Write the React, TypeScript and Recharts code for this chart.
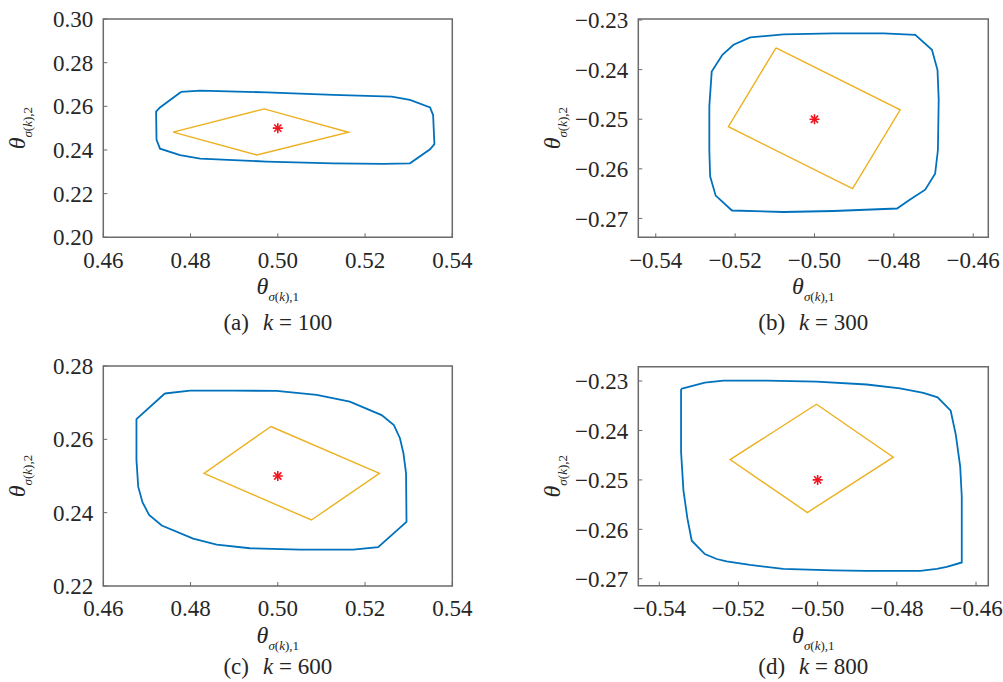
import { ScatterChart, Scatter, XAxis, YAxis, ReferenceArea } from 'recharts'

const BLUE = '#0072BD'
const ORANGE = '#EDB120'
const RED = '#F0141E'
const FRAME = '#6a6a6a'
const INK = '#262626'
const FONT = "'Liberation Serif', 'Times New Roman', serif"

// tick values
const xTicksPos = [0.46, 0.48, 0.5, 0.52, 0.54]
const xTicksNeg = [-0.54, -0.52, -0.5, -0.48, -0.46]
const yTicksA = [0.2, 0.22, 0.24, 0.26, 0.28, 0.3]
const yTicksB = [-0.27, -0.26, -0.25, -0.24, -0.23]
const yTicksC = [0.22, 0.24, 0.26, 0.28]
const yTicksD = [-0.27, -0.26, -0.25, -0.24, -0.23]

// (a) k = 100
const boundAX = [0.4778, 0.4822, 0.4974, 0.5127, 0.5261, 0.5303, 0.5349, 0.5356, 0.5359, 0.5349, 0.5303, 0.5242, 0.5127, 0.4974, 0.4822, 0.4776, 0.473, 0.4722, 0.4721, 0.473]
const boundAY = [0.2666, 0.2672, 0.2664, 0.2652, 0.2644, 0.2629, 0.2595, 0.256, 0.2427, 0.2403, 0.2339, 0.2336, 0.2339, 0.2347, 0.236, 0.2376, 0.2406, 0.2446, 0.2576, 0.2595]
const estAX = [0.476, 0.4969, 0.5162, 0.4952]
const estAY = [0.2482, 0.2588, 0.2481, 0.2377]

// (b) k = 300
const boundBX = [-0.5162, -0.5078, -0.4952, -0.4826, -0.4746, -0.4704, -0.469, -0.4687, -0.4689, -0.4696, -0.4721, -0.4759, -0.4792, -0.4952, -0.5078, -0.5208, -0.5249, -0.5263, -0.5265, -0.5265, -0.5259, -0.5232, -0.5204]
const boundBY = [-0.2335, -0.2329, -0.2327, -0.2327, -0.233, -0.236, -0.2401, -0.2461, -0.2562, -0.261, -0.2642, -0.2662, -0.268, -0.2685, -0.2687, -0.2684, -0.2654, -0.2615, -0.2562, -0.2474, -0.2404, -0.237, -0.235]
const estBX = [-0.5097, -0.4784, -0.4904, -0.5217]
const estBY = [-0.2356, -0.2481, -0.264, -0.2515]

// (c) k = 600
const boundCX = [0.4741, 0.4799, 0.4898, 0.4997, 0.5089, 0.5165, 0.5238, 0.5266, 0.528, 0.5288, 0.5294, 0.5295, 0.523, 0.5173, 0.5051, 0.4936, 0.486, 0.4806, 0.4734, 0.4705, 0.469, 0.468, 0.4676, 0.4676]
const boundCY = [0.2725, 0.2733, 0.2733, 0.2732, 0.2721, 0.2703, 0.2666, 0.2639, 0.2603, 0.2562, 0.2507, 0.2375, 0.2306, 0.2299, 0.2299, 0.2303, 0.2313, 0.2329, 0.2365, 0.2394, 0.2428, 0.2471, 0.2544, 0.2655]
const estCX = [0.4984, 0.5233, 0.5077, 0.4831]
const estCY = [0.2635, 0.2507, 0.238, 0.2507]

// (d) k = 800
const boundDX = [-0.5345, -0.5285, -0.5238, -0.5129, -0.5003, -0.4876, -0.4792, -0.4733, -0.4697, -0.4664, -0.4651, -0.464, -0.4636, -0.4636, -0.4674, -0.4699, -0.4741, -0.4876, -0.496, -0.5087, -0.5171, -0.523, -0.5255, -0.5285, -0.5318, -0.5329, -0.5339, -0.5345]
const boundDY = [-0.2316, -0.2303, -0.2299, -0.2299, -0.2301, -0.2307, -0.2315, -0.2324, -0.2333, -0.236, -0.2409, -0.2473, -0.2534, -0.2667, -0.2676, -0.268, -0.2684, -0.2684, -0.2683, -0.268, -0.2672, -0.2665, -0.266, -0.265, -0.2623, -0.2578, -0.2521, -0.2443]
const estDX = [-0.5003, -0.4809, -0.5026, -0.5221]
const estDY = [-0.2347, -0.2454, -0.2566, -0.2459]

// true parameter
const truePos = [{ x: 0.5, y: 0.25 }]
const trueNeg = [{ x: -0.5, y: -0.25 }]

// closed polygon from x/y lists
const ring = (xs: number[], ys: number[]) => {
  const pts = xs.map((x, i) => ({ x, y: ys[i] }))
  return [...pts, pts[0]]
}

const fmt = (v: number) => (v < 0 ? '\u2212' + Math.abs(v).toFixed(2) : v.toFixed(2))

const Nothing = () => <g />

const Asterisk = (p: any) => {
  const { cx, cy } = p
  const r = 5
  const d = r * 0.72
  return (
    <g stroke={RED} strokeWidth={1.6}>
      <line x1={cx - r} y1={cy} x2={cx + r} y2={cy} />
      <line x1={cx} y1={cy - r} x2={cx} y2={cy + r} />
      <line x1={cx - d} y1={cy - d} x2={cx + d} y2={cy + d} />
      <line x1={cx - d} y1={cy + d} x2={cx + d} y2={cy - d} />
    </g>
  )
}

type Rect = { left: number; right: number; top: number; bottom: number }

const Theta = ({ idx }: { idx: string }) => (
  <>
    <tspan fontStyle="italic" style={{ fontSize: 24 }}>θ</tspan>
    <tspan dy={7} fontStyle="italic" style={{ fontSize: 13 }}>σ</tspan>
    <tspan style={{ fontSize: 13 }}>(</tspan>
    <tspan fontStyle="italic" style={{ fontSize: 13 }}>k</tspan>
    <tspan style={{ fontSize: 13 }}>),{idx}</tspan>
  </>
)

function Panel(props: {
  left: number
  top: number
  width: number
  plot: Rect
  xDomain: number[]
  yDomain: number[]
  xTicks: number[]
  yTicks: number[]
  bound: { x: number; y: number }[]
  est: { x: number; y: number }[]
  truth: { x: number; y: number }[]
  tag: string
  k: number
  capGap: number
}) {
  const { left, top, width, plot, xDomain, yDomain, xTicks, yTicks, bound, est, truth, tag, k, capGap } = props
  const W = width
  const H = 342
  const YW = 80
  const XH = 30
  const margin = { top: plot.top, left: plot.left - YW, right: W - plot.right, bottom: H - plot.bottom - XH }
  const cx = (plot.left + plot.right) / 2
  const cy = (plot.top + plot.bottom) / 2

  const xTitle = () => (
    <g fill={INK}>
      <text x={cx} y={plot.bottom + 57} textAnchor="middle" style={{ fontFamily: FONT }}>
        <Theta idx="1" />
      </text>
      <text x={cx} y={plot.bottom + capGap} textAnchor="middle" style={{ fontFamily: FONT, fontSize: 23 }}>
        <tspan>({tag})</tspan>
        <tspan dx={14} fontStyle="italic">k</tspan>
        <tspan> = {k}</tspan>
      </text>
    </g>
  )
  const yTitle = () => {
    const x = plot.left - 78
    return (
      <g fill={INK}>
        <text
          x={x}
          y={cy}
          textAnchor="middle"
          transform={`rotate(-90 ${x} ${cy})`}
          style={{ fontFamily: FONT }}
        >
          <Theta idx="2" />
        </text>
      </g>
    )
  }

  const tickStyle = { fill: INK, fontSize: 23, style: { fontFamily: FONT } }

  return (
    <div style={{ position: 'absolute', left, top }}>
      <ScatterChart width={W} height={H} margin={margin}>
        <XAxis
          type="number"
          dataKey="x"
          domain={xDomain}
          ticks={xTicks}
          interval={0}
          allowDataOverflow
          height={XH}
          tickFormatter={fmt}
          tickSize={-4}
          tickMargin={18}
          axisLine={false}
          tickLine={{ stroke: FRAME }}
          tick={tickStyle}
          label={{ content: xTitle }}
        />
        <YAxis
          type="number"
          dataKey="y"
          domain={yDomain}
          ticks={yTicks}
          interval={0}
          allowDataOverflow
          width={YW}
          tickFormatter={fmt}
          tickSize={-4}
          tickMargin={14}
          axisLine={false}
          tickLine={{ stroke: FRAME }}
          tick={tickStyle}
          label={{ content: yTitle }}
        />
        <ReferenceArea
          x1={xDomain[0]}
          x2={xDomain[1]}
          y1={yDomain[0]}
          y2={yDomain[1]}
          fill="none"
          stroke={FRAME}
          strokeWidth={1.5}
          ifOverflow="visible"
        />
        <Scatter
          data={bound}
          fill={BLUE}
          line={{ stroke: BLUE, strokeWidth: 1.8 }}
          lineType="joint"
          shape={Nothing}
          isAnimationActive={false}
        />
        <Scatter
          data={est}
          fill={ORANGE}
          line={{ stroke: ORANGE, strokeWidth: 1.4 }}
          lineType="joint"
          shape={Nothing}
          isAnimationActive={false}
        />
        <Scatter data={truth} fill={RED} shape={Asterisk} isAnimationActive={false} />
      </ScatterChart>
    </div>
  )
}

export default function App() {
  return (
    <div
      style={{
        position: 'absolute',
        left: 0,
        top: 0,
        width: 1003,
        height: 682,
        background: '#fff',
        overflow: 'hidden',
        fontFamily: FONT,
      }}
    >
      <Panel
        left={0}
        top={0}
        width={500}
        plot={{ left: 103.3, right: 452.3, top: 19, bottom: 237.3 }}
        xDomain={[0.46, 0.54]}
        yDomain={[0.2, 0.3]}
        xTicks={xTicksPos}
        yTicks={yTicksA}
        bound={ring(boundAX, boundAY)}
        est={ring(estAX, estAY)}
        truth={truePos}
        tag="a"
        k={100}
        capGap={93}
      />
      <Panel
        left={500}
        top={0}
        width={503}
        plot={{ left: 138.3, right: 488.3, top: 19, bottom: 237.3 }}
        xDomain={[-0.5444, -0.4562]}
        yDomain={[-0.2738, -0.2298]}
        xTicks={xTicksNeg}
        yTicks={yTicksB}
        bound={ring(boundBX, boundBY)}
        est={ring(estBX, estBY)}
        truth={trueNeg}
        tag="b"
        k={300}
        capGap={93}
      />
      <Panel
        left={0}
        top={340}
        width={500}
        plot={{ left: 103.3, right: 452.3, top: 26, bottom: 246 }}
        xDomain={[0.46, 0.54]}
        yDomain={[0.22, 0.28]}
        xTicks={xTicksPos}
        yTicks={yTicksC}
        bound={ring(boundCX, boundCY)}
        est={ring(estCX, estCY)}
        truth={truePos}
        tag="c"
        k={600}
        capGap={88}
      />
      <Panel
        left={500}
        top={340}
        width={503}
        plot={{ left: 138.3, right: 488.3, top: 26.7, bottom: 245.7 }}
        xDomain={[-0.5453, -0.4569]}
        yDomain={[-0.2714, -0.2271]}
        xTicks={xTicksNeg}
        yTicks={yTicksD}
        bound={ring(boundDX, boundDY)}
        est={ring(estDX, estDY)}
        truth={trueNeg}
        tag="d"
        k={800}
        capGap={88}
      />
    </div>
  )
}
